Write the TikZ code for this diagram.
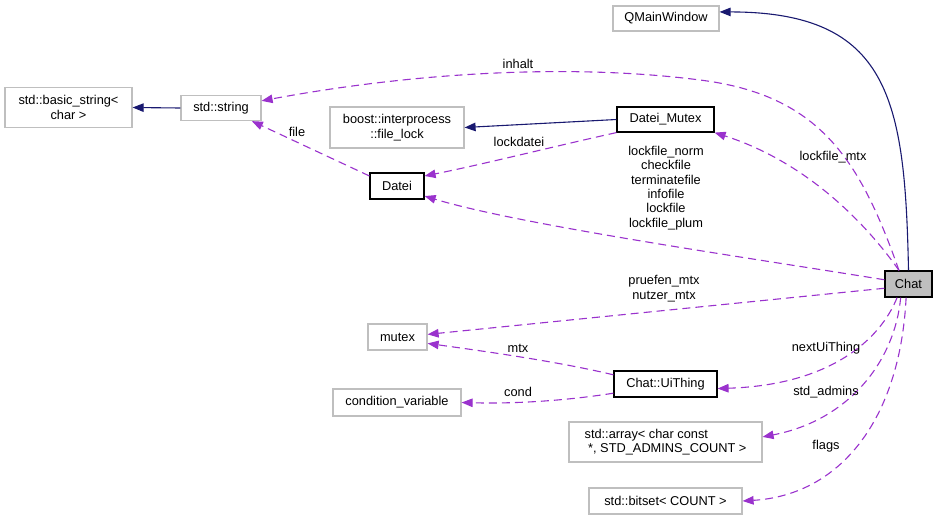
\documentclass[tikz,border=0pt]{standalone}
\usepackage{fontspec}
\setmainfont{Liberation Sans}
\usetikzlibrary{arrows.meta,calc}
\definecolor{EdgePurple}{RGB}{154,50,205}
\definecolor{EdgeNavy}{RGB}{25,25,112}
\definecolor{BoxGray}{RGB}{191,191,191}
\tikzset{
  cls/.style={draw,line width=1.2pt,inner sep=0pt,minimum height=26pt,align=center,font=\fontsize{12.8}{14.4}\selectfont},
  extcls/.style={cls,draw=BoxGray,fill=white},
  doccls/.style={cls,draw=black,fill=white},
  curcls/.style={cls,draw=black,fill=BoxGray},
  usage/.style={EdgePurple,line width=1.1pt,dash pattern=on 8pt off 5pt,-{Triangle[length=11pt,width=8.5pt]}},
  inherit/.style={EdgeNavy,line width=1.1pt,-{Triangle[length=11pt,width=8.5pt]}},
  lbl/.style={font=\fontsize{12.8}{14.4}\selectfont,align=center,inner sep=0pt}
}
\begin{document}
\begin{tikzpicture}[x=1pt,y=-1pt]
  \useasboundingbox (0,0) rectangle (941,520);
  % classes
  \node[extcls,minimum width=106pt,minimum height=25pt] (qmw) at (666,18.5) {QMainWindow};
  \node[extcls,minimum width=127pt,minimum height=40pt] (bstr) at (68.5,107.5) {std::basic\_string<\\char >};
  \node[extcls,minimum width=80pt,minimum height=25pt] (str) at (221,108) {std::string};
  \node[extcls,minimum width=134pt,minimum height=41pt] (flock) at (397,127.5) {boost::interprocess\\::file\_lock};
  \node[doccls,minimum width=97pt,minimum height=25pt] (dmtx) at (665.5,119.5) {Datei\_Mutex};
  \node[doccls,minimum width=54pt] (datei) at (397,186) {Datei};
  \node[curcls,minimum width=47pt] (chat) at (908.5,284) {Chat};
  \node[extcls,minimum width=59pt] (mutex) at (397.5,337) {mutex};
  \node[extcls,minimum width=128pt,minimum height=27pt] (cvar) at (397,402.5) {condition\_variable};
  \node[doccls,minimum width=103pt] (ui) at (665.5,384) {Chat::UiThing};
  \node[extcls,align=left,minimum width=193pt,minimum height=40pt] (arr) at (665.5,442) {std::array< char const\\~*, STD\_ADMINS\_COUNT >};
  \node[extcls,minimum width=153pt] (bits) at (665.5,501) {std::bitset< COUNT >};

  % inheritance
  \draw[inherit] (chat.north) .. controls (905,100) and (890,12) .. (qmw.7);
  \draw[inherit] (str.west) -- (bstr.east);
  \draw[inherit] (dmtx.west) -- (flock.east);

  % usage
  \draw[usage] (chat.125) .. controls (860,160) and (820,95) .. (700,80)
    .. controls (560,62) and (400,75) .. (str.10);
  \draw[usage] (datei.160) -- (str.-23);
  \draw[usage] (dmtx.south west) .. controls (560,145) and (480,165) .. (datei.20);
  \draw[usage] (chat.125) .. controls (860,215) and (800,160) .. (dmtx.south east);
  \draw[usage] (chat.170) .. controls (750,258) and (520,225) .. (datei.-20);
  \draw[usage] (chat.190) -- (mutex.5);
  \draw[usage] (ui.170) .. controls (560,362) and (490,352) .. (mutex.-12);
  \draw[usage] (ui.-170) .. controls (570,400) and (520,404) .. (cvar.east);
  \draw[usage] (chat.-130) .. controls (880,340) and (830,385) .. (ui.-5);
  \draw[usage] (chat.-120) .. controls (895,360) and (850,420) .. (arr.3);
  \draw[usage] (chat.-100) .. controls (900,420) and (840,495) .. (bits.east);

  % labels
  \node[lbl] (lInhalt) at (518,64) {inhalt};
  \node[lbl] (lFile) at (297,132) {file};
  \node[lbl] (lLockdatei) at (519,142) {lockdatei};
  \node[lbl] (lLockmtx) at (833,157) {lockfile\_mtx};
  \node[lbl] (lFiles) at (666,188) {lockfile\_norm\\checkfile\\terminatefile\\infofile\\lockfile\\lockfile\_plum};
  \node[lbl] (lMutexes) at (664,288.5) {pruefen\_mtx\\nutzer\_mtx};
  \node[lbl] (lMtx) at (518,348) {mtx};
  \node[lbl] (lCond) at (518,392) {cond};
  \node[lbl] (lNext) at (826,348) {nextUiThing};
  \node[lbl] (lAdmins) at (826,392) {std\_admins};
  \node[lbl] (lFlags) at (826,446) {flags};
\end{tikzpicture}
\end{document}
